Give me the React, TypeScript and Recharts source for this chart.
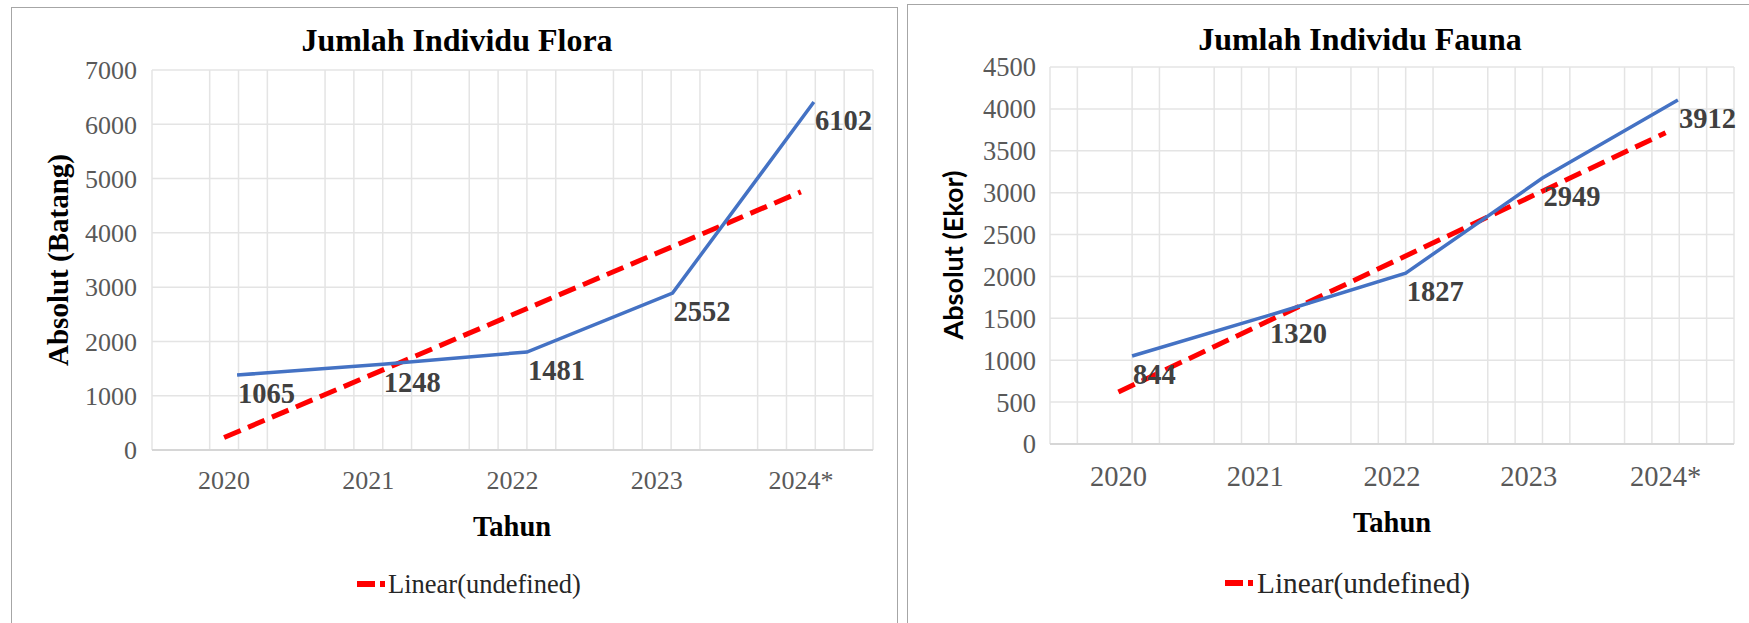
import React from 'react';
import { LineChart, Line, XAxis, YAxis, CartesianGrid, LabelList } from 'recharts';

const SERIF = '"Liberation Serif", "Times New Roman", serif';

// categories
const years = ['2020', '2021', '2022', '2023', '2024*'];
const categoryTicks = [0, 1, 2, 3, 4];
const minorTicks = [-0.3, -0.1, 0.1, 0.3, 0.7, 0.9, 1.1, 1.3, 1.7, 1.9, 2.1, 2.3, 2.7, 2.9, 3.1, 3.3, 3.7, 3.9, 4.1, 4.3];

// Flora
const floraLinePos = [0.09, 1.1, 2.1, 3.11, 4.09];
const floraLineValues = [1381, 1580, 1805, 2891, 6409];
const floraLabels = ['1065', '1248', '1481', '2552', '6102'];
const floraTrendPos = [0, 4];
const floraTrendValues = [230, 4755];
const floraYTicks = [0, 1000, 2000, 3000, 4000, 5000, 6000, 7000];

// Fauna
const faunaLinePos = [0.1, 1.1, 2.1, 3.1, 4.09];
const faunaLineValues = [1050, 1535, 2040, 3174, 4105];
const faunaLabels = ['844', '1320', '1827', '2949', '3912'];
const faunaTrendPos = [0, 4];
const faunaTrendValues = [620, 3715];
const faunaYTicks = [0, 500, 1000, 1500, 2000, 2500, 3000, 3500, 4000, 4500];

type Row = { x: number; y: number; label: string };
const rows = (pos: number[], vals: number[], labels?: string[]): Row[] =>
  pos.map((x, i) => ({ x, y: vals[i], label: labels ? labels[i] : '' }));

type ChartProps = {
  left: number;
  width: number;
  margin: { top: number; right: number; bottom: number; left: number };
  yWidth: number;
  xHeight: number;
  yMax: number;
  yTicks: number[];
  yTickSize: number;
  yTickMargin: number;
  xTickSize: number;
  xTickMargin: number;
  labelSize: number;
  line: Row[];
  trend: Row[];
};

const DataLabel = (size: number) => (p: any) => {
  const { x, y, value } = p;
  return (
    <text
      x={Number(x) + 1}
      y={Number(y) + 28}
      fill="#404040"
      fontFamily={SERIF}
      fontWeight="bold"
      fontSize={size}
      textAnchor="start"
    >
      {value}
    </text>
  );
};

function Chart(c: ChartProps) {
  return (
    <div style={{ position: 'absolute', left: c.left, top: 0 }}>
      <LineChart width={c.width} height={623} margin={c.margin}>
        <XAxis
          xAxisId="minor"
          type="number"
          dataKey="x"
          domain={[-0.5, 4.5]}
          ticks={minorTicks}
          hide
          height={0}
          allowDataOverflow
        />
        <CartesianGrid xAxisId="minor" stroke="#e4e4e4" strokeWidth={1.5} />
        <XAxis
          type="number"
          dataKey="x"
          domain={[-0.5, 4.5]}
          ticks={categoryTicks}
          interval={0}
          allowDataOverflow
          height={c.xHeight}
          tickFormatter={(v: number) => years[v]}
          axisLine={{ stroke: '#d6d6d6', strokeWidth: 2 }}
          tickLine={false}
          tickSize={0}
          tickMargin={c.xTickMargin}
          tick={{ fill: '#595959', fontFamily: SERIF, fontSize: c.xTickSize }}
        />
        <YAxis
          type="number"
          domain={[0, c.yMax]}
          ticks={c.yTicks}
          interval={0}
          width={c.yWidth}
          axisLine={false}
          tickLine={false}
          tickSize={0}
          tickMargin={c.yTickMargin}
          tick={{ fill: '#595959', fontFamily: SERIF, fontSize: c.yTickSize }}
        />
        <Line
          data={c.trend}
          dataKey="y"
          stroke="#ff0000"
          strokeWidth={5}
          strokeDasharray="18 8"
          dot={false}
          activeDot={false}
          isAnimationActive={false}
          legendType="none"
        />
        <Line
          data={c.line}
          dataKey="y"
          stroke="#4472C4"
          strokeWidth={3.5}
          dot={false}
          activeDot={false}
          isAnimationActive={false}
          legendType="none"
        >
          <LabelList dataKey="label" content={DataLabel(c.labelSize)} />
        </Line>
      </LineChart>
    </div>
  );
}

export default function App() {
  return (
    <div
      style={{
        position: 'absolute',
        left: 0,
        top: 0,
        width: 1749,
        height: 623,
        overflow: 'hidden',
        background: '#fff',
      }}
    >
      <div
        style={{
          position: 'absolute',
          left: 11,
          top: 7,
          width: 887,
          height: 700,
          border: '1.5px solid #a6a6a6',
          boxSizing: 'border-box',
        }}
      />
      <div
        style={{
          position: 'absolute',
          left: 907,
          top: 4,
          width: 900,
          height: 700,
          border: '1.5px solid #a6a6a6',
          boxSizing: 'border-box',
        }}
      />
      <Chart
        left={0}
        width={900}
        margin={{ top: 70, right: 27, bottom: 113, left: 0 }}
        yWidth={152}
        xHeight={60}
        yMax={7000}
        yTicks={floraYTicks}
        yTickSize={26}
        yTickMargin={15}
        xTickSize={26}
        xTickMargin={21}
        labelSize={28.5}
        line={rows(floraLinePos, floraLineValues, floraLabels)}
        trend={rows(floraTrendPos, floraTrendValues)}
      />
      <Chart
        left={900}
        width={849}
        margin={{ top: 67, right: 15, bottom: 119, left: 0 }}
        yWidth={150}
        xHeight={60}
        yMax={4500}
        yTicks={faunaYTicks}
        yTickSize={26.5}
        yTickMargin={14}
        xTickSize={28.5}
        xTickMargin={22}
        labelSize={28.5}
        line={rows(faunaLinePos, faunaLineValues, faunaLabels)}
        trend={rows(faunaTrendPos, faunaTrendValues)}
      />
      <svg
        width={1749}
        height={623}
        style={{ position: 'absolute', left: 0, top: 0, pointerEvents: 'none' }}
      >
        {/* titles */}
        <text x={457} y={51} textAnchor="middle" fontFamily={SERIF} fontWeight="bold" fontSize={32} fill="#000">
          Jumlah Individu Flora
        </text>
        <text x={1360} y={50} textAnchor="middle" fontFamily={SERIF} fontWeight="bold" fontSize={32} fill="#000">
          Jumlah Individu Fauna
        </text>
        {/* y axis titles */}
        <text
          transform="translate(68,260) rotate(-90)"
          textAnchor="middle"
          fontFamily={SERIF}
          fontWeight="bold"
          fontSize={29}
          fill="#000"
        >
          Absolut (Batang)
        </text>
        <text
          transform="translate(963,255) rotate(-90)"
          textAnchor="middle"
          fontFamily="Lato, 'Noto Sans', sans-serif"
          fontWeight="bold"
          fontSize={27}
          fill="#000"
        >
          Absolut (Ekor)
        </text>
        {/* x axis titles */}
        <text x={512} y={536} textAnchor="middle" fontFamily={SERIF} fontWeight="bold" fontSize={28.5} fill="#000">
          Tahun
        </text>
        <text x={1392} y={532} textAnchor="middle" fontFamily={SERIF} fontWeight="bold" fontSize={28.5} fill="#000">
          Tahun
        </text>
        {/* legends */}
        <line x1={357} y1={584} x2={375} y2={584} stroke="#ff0000" strokeWidth={6} />
        <line x1={380} y1={584} x2={385} y2={584} stroke="#ff0000" strokeWidth={6} />
        <text x={388} y={593} fontFamily={SERIF} fontSize={26.5} fill="#262626">
          Linear(undefined)
        </text>
        <line x1={1225} y1={583} x2={1243} y2={583} stroke="#ff0000" strokeWidth={6} />
        <line x1={1248} y1={583} x2={1253} y2={583} stroke="#ff0000" strokeWidth={6} />
        <text x={1257} y={593} fontFamily={SERIF} fontSize={29.3} fill="#262626">
          Linear(undefined)
        </text>
      </svg>
    </div>
  );
}
